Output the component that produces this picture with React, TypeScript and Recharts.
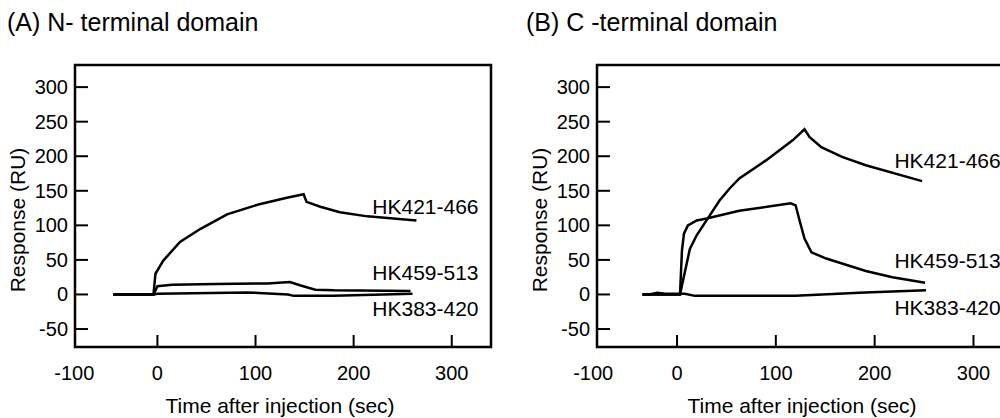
import React from "react";
import {
  LineChart,
  Line,
  XAxis,
  YAxis,
  ReferenceArea,
  ReferenceDot,
} from "recharts";

const FONT = '"Liberation Sans", Arial, Helvetica, sans-serif';

// ── Sensorgram traces: [time after injection (sec), response (RU)] ───────────

// (A) N-terminal domain
const nTermHK421_466: [number, number][] = [
  [-45, 0], [-4, 0], [-2, 30], [6, 49], [23, 76], [44, 95], [71, 116],
  [105, 131], [132, 140], [149, 145], [152, 134], [166, 127], [186, 119],
  [214, 113], [264, 107],
];
const nTermHK459_513: [number, number][] = [
  [-45, 0], [-4, 0], [0, 12], [15, 14], [60, 15], [112, 16], [135, 18],
  [146, 13], [161, 7], [180, 6], [258, 5],
];
const nTermHK383_420: [number, number][] = [
  [-45, 0], [-4, 0], [0, 1], [92, 3], [133, 0], [139, -2], [180, -2],
  [260, 1],
];

// (B) C-terminal domain
const cTermHK421_466: [number, number][] = [
  [-35, 0], [3, 0], [13, 66], [20, 86], [33, 114], [43, 136], [53, 153],
  [63, 168], [90, 194], [117, 223], [129, 239], [134, 228], [146, 213],
  [167, 199], [191, 187], [248, 164],
];
const cTermHK459_513: [number, number][] = [
  [-35, 0], [3, 0], [5, 64], [7, 88], [11, 100], [20, 107], [30, 110],
  [63, 121], [115, 132], [120, 129], [124, 107], [129, 81], [136, 61],
  [151, 52], [191, 34], [218, 25], [251, 17],
];
const cTermHK383_420: [number, number][] = [
  [-35, 0], [-28, 0], [-20, 2.5], [-12, 1], [8, 1], [18, -2], [120, -2],
  [190, 3], [252, 6],
];

const seriesNames = ["HK421-466", "HK459-513", "HK383-420"];

const xTicks = [-100, 0, 100, 200, 300];
const yTicks = [-50, 0, 50, 100, 150, 200, 250, 300];

const toPoints = (pairs: [number, number][]) =>
  pairs.map(([t, ru]) => ({ t, ru }));

interface PanelProps {
  title: string;
  left: number;
  width: number;
  titleLeft: number;
  xDomain: [number, number];
  traces: [number, number][][];
  // where each trace's name sits, in axis units
  labelAt: [number, number][];
}

const yDomain: [number, number] = [-76, 332];

const Panel = ({
  title,
  left,
  width,
  titleLeft,
  xDomain,
  traces,
  labelAt,
}: PanelProps) => {
  const XTick = (props: any) => {
    const { x, y, payload } = props;
    const v = payload?.value as number;
    // -100 sits left of the frame, so its label is tucked inside the corner
    if (v < xDomain[0]) {
      return (
        <text x={x + 35} y={y + 33} textAnchor="end" fontSize={20} fill="#000">
          {v}
        </text>
      );
    }
    return (
      <g>
        <line x1={x} y1={y} x2={x} y2={y - 12} stroke="#000" strokeWidth={2} />
        <text x={x} y={y + 33} textAnchor="middle" fontSize={20} fill="#000">
          {v}
        </text>
      </g>
    );
  };

  const YTick = (props: any) => {
    const { x, y, payload } = props;
    return (
      <g>
        <line x1={x} y1={y} x2={x + 13} y2={y} stroke="#000" strokeWidth={2} />
        <text x={x - 7} y={y + 7} textAnchor="end" fontSize={20} fill="#000">
          {payload?.value}
        </text>
      </g>
    );
  };

  const xTitle = (props: any) => {
    const vb = props?.viewBox ?? { x: 75, y: 347, width: 416, height: 71 };
    return (
      <text
        x={vb.x + vb.width / 2 - 3}
        y={vb.y + 66}
        textAnchor="middle"
        fontSize={21}
        fill="#000"
      >
        Time after injection (sec)
      </text>
    );
  };

  const yTitle = (props: any) => {
    const vb = props?.viewBox ?? { x: 0, y: 65, width: 75, height: 282 };
    const cx = vb.x + 25;
    const cy = vb.y + vb.height / 2 + 14;
    return (
      <text
        x={cx}
        y={cy}
        transform={`rotate(-90, ${cx}, ${cy})`}
        textAnchor="middle"
        fontSize={21}
        fill="#000"
      >
        Response (RU)
      </text>
    );
  };

  return (
    <div style={{ position: "absolute", left, top: 0 }}>
      <div
        style={{
          position: "absolute",
          left: titleLeft,
          top: 7,
          fontSize: 25,
          lineHeight: "30px",
          whiteSpace: "nowrap",
          color: "#000",
        }}
      >
        {title}
      </div>
      <LineChart
        width={width}
        height={418}
        margin={{ top: 65, right: width - 75 - 416, bottom: 0, left: 0 }}
      >
        <XAxis
          type="number"
          dataKey="t"
          domain={xDomain}
          allowDataOverflow
          ticks={xTicks}
          interval={0}
          tickSize={0}
          tickMargin={0}
          tickLine={false}
          axisLine={false}
          height={71}
          tick={(p: any) => <XTick {...p} />}
          label={xTitle}
        />
        <YAxis
          type="number"
          domain={yDomain}
          allowDataOverflow
          ticks={yTicks}
          interval={0}
          tickSize={0}
          tickMargin={0}
          tickLine={false}
          axisLine={false}
          width={75}
          tick={(p: any) => <YTick {...p} />}
          label={yTitle}
        />
        <ReferenceArea
          x1={xDomain[0]}
          x2={xDomain[1]}
          y1={yDomain[0]}
          y2={yDomain[1]}
          fill="none"
          fillOpacity={0}
          stroke="#000"
          strokeWidth={2.5}
          ifOverflow="visible"
        />
        {traces.map((trace, i) => (
          <Line
            key={seriesNames[i]}
            data={toPoints(trace)}
            dataKey="ru"
            type="linear"
            stroke="#000"
            strokeWidth={2.5}
            dot={false}
            activeDot={false}
            isAnimationActive={false}
          />
        ))}
        {labelAt.map(([t, ru], i) => (
          <ReferenceDot
            key={`lbl-${seriesNames[i]}`}
            x={t}
            y={ru}
            r={0}
            fill="none"
            stroke="none"
            ifOverflow="visible"
            label={{
              value: seriesNames[i],
              position: "right",
              offset: 0,
              fontSize: 21,
              fill: "#000",
            }}
          />
        ))}
      </LineChart>
    </div>
  );
};

export default function App() {
  return (
    <div
      style={{
        position: "fixed",
        left: 0,
        top: 0,
        width: 1000,
        height: 418,
        overflow: "hidden",
        background: "#fff",
        fontFamily: FONT,
      }}
    >
      <Panel
        title="(A) N- terminal domain"
        left={0}
        width={500}
        titleLeft={7}
        xDomain={[-84, 340]}
        traces={[nTermHK421_466, nTermHK459_513, nTermHK383_420]}
        labelAt={[
          [219, 127],
          [219, 32],
          [219, -21],
        ]}
      />
      <Panel
        title="(B) C -terminal domain"
        left={522}
        width={502}
        titleLeft={4}
        xDomain={[-81, 340]}
        traces={[cTermHK421_466, cTermHK459_513, cTermHK383_420]}
        labelAt={[
          [220, 194],
          [220, 49],
          [220, -19],
        ]}
      />
    </div>
  );
}
